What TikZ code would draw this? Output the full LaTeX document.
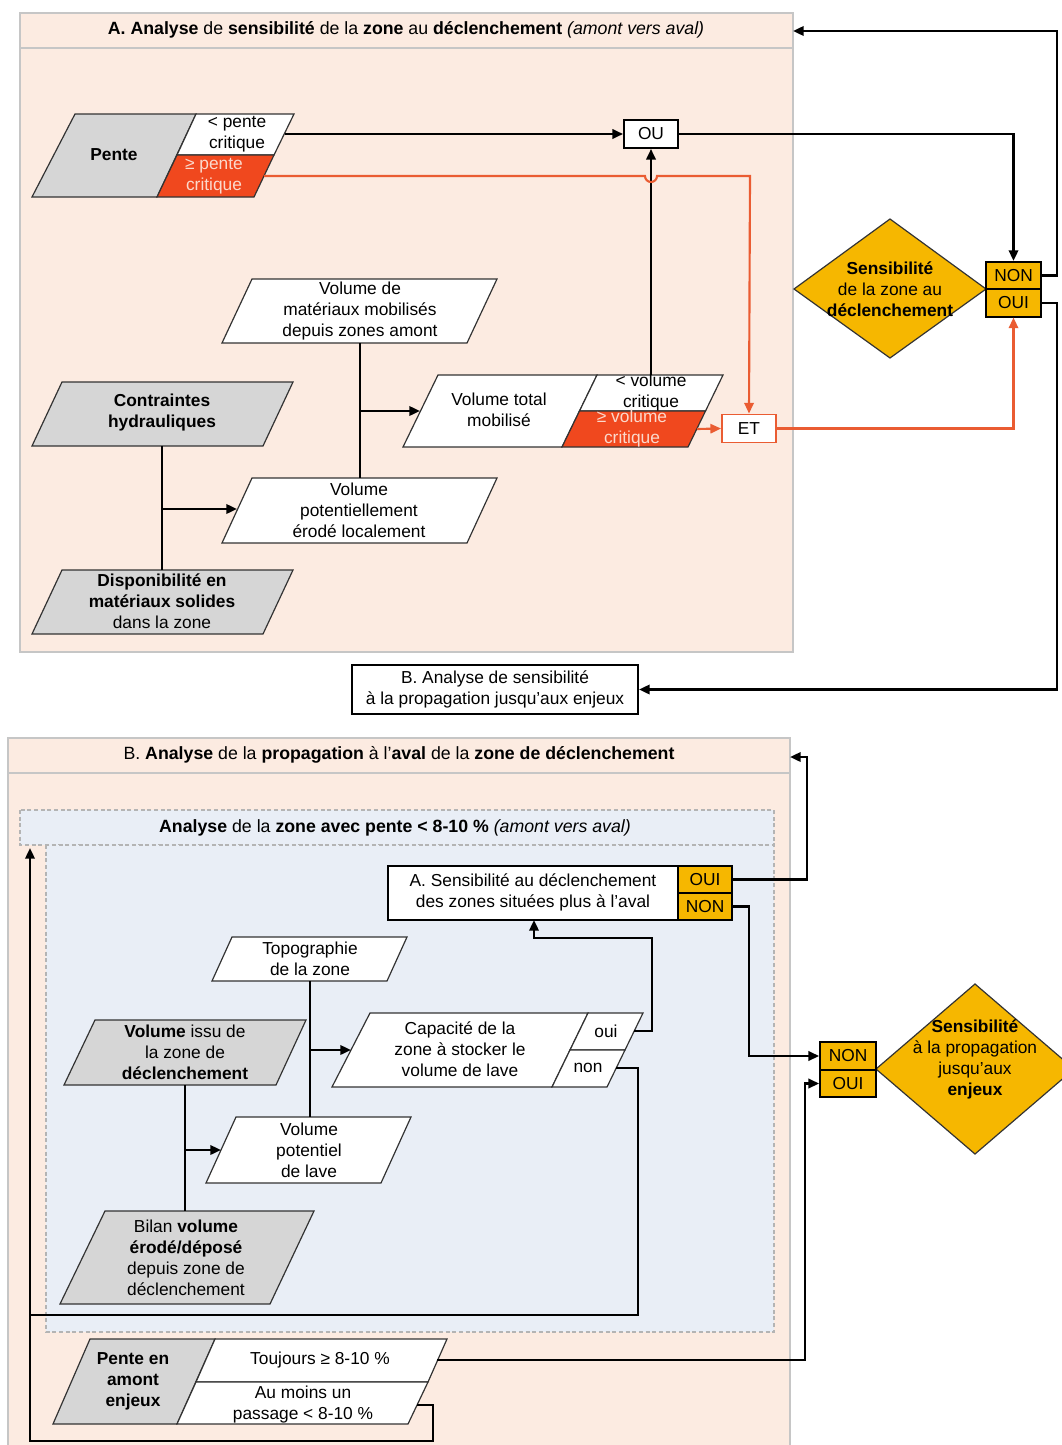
\documentclass[tikz,border=0pt]{standalone}
\usepackage{fontspec}
\setmainfont{Liberation Sans}
\usetikzlibrary{arrows.meta,calc}
\definecolor{peach}{HTML}{FCEBE1}
\definecolor{bordergray}{HTML}{C6C6C6}
\definecolor{boxgray}{HTML}{D6D6D6}
\definecolor{redc}{HTML}{F0481E}
\definecolor{redl}{HTML}{EA5C32}
\definecolor{redtxt}{HTML}{FBD9CC}
\definecolor{amber}{HTML}{F6B700}
\definecolor{bluebg}{HTML}{E9EEF6}
\definecolor{dashgray}{HTML}{B4B4B4}
\newcommand\plg[5][white]{\filldraw[shp, fill=#1] (#2) -- (#3) -- (#4) -- (#5) -- cycle;}
\begin{document}
\begin{tikzpicture}[x=0.75pt,y=-0.75pt,
  txt/.style={font=\fontsize{13}{15.75}\selectfont, align=center, inner sep=0pt},
  ttl/.style={font=\fontsize{13.3}{15}\selectfont, inner sep=0pt},
  shp/.style={draw=black!80, line width=0.9pt},
  conn/.style={line width=1.8pt, draw=black},
  arr/.style={conn, -{Triangle[length=8pt,width=7pt]}},
  rarr/.style={line width=1.6pt, draw=redl, -{Triangle[length=8pt,width=7pt]}},
  gate/.style={draw, line width=1.4pt, fill=white, minimum width=40.5pt, minimum height=21pt, inner sep=0pt, font=\fontsize{13}{15}\selectfont},
  yn/.style={draw, line width=1.3pt, fill=amber, minimum width=41.25pt, minimum height=20.5pt, inner sep=0pt, font=\fontsize{13}{15}\selectfont},
]
\useasboundingbox (0,0) rectangle (1062,1445);
\fill[white] (0,0) rectangle (1062,1445);

% ================= Section A =================
\filldraw[fill=peach, draw=bordergray, line width=1.5pt] (20,13) rectangle (793,652);
\draw[bordergray, line width=1.5pt] (20,48) -- (793,48);
\node[ttl] (titleA) at (406,30) {\textbf{A. Analyse} de \textbf{sensibilité} de la \textbf{zone} au \textbf{déclenchement} \textit{(amont vers aval)}};
\coordinate (secAhdr) at (793,31);

% Pente
\plg[boxgray]{75,114}{196,114}{157,197}{32,197}
\plg{196,114}{294,114}{274,155}{177,155}
\plg[redc]{177,155}{274,155}{254,197}{157,197}
\node[txt, font=\fontsize{13}{15.75}\selectfont\bfseries] (pente) at (114,155) {Pente};
\node[txt] (pentelt) at (237,134) {< pente\\critique};
\node[txt, text=redtxt] (pentege) at (214,176) {≥ pente\\critique};
\coordinate (pltR) at (285,134);
\coordinate (pgeR) at (264,176);

% OU gate
\node[gate] (ou) at (651,134) {OU};

% Volume de materiaux
\plg{252,279}{497,279}{467,343}{222,343}
\node[txt] (vmat) at (360,311) {Volume de\\matériaux mobilisés\\depuis zones amont};
\coordinate (vmatB) at (360,343);

% Contraintes hydrauliques
\plg[boxgray]{62,382}{293,382}{263,446}{32,446}
\node[txt, font=\fontsize{13}{15.75}\selectfont\bfseries] (contr) at (162,413) {Contraintes\\hydrauliques};
\coordinate (contrB) at (162,446);

% Volume total mobilise
\plg{438,375}{597,375}{562,447}{403,447}
\plg{597,375}{723,375}{705.5,411}{579.5,411}
\plg[redc]{579.5,411}{705.5,411}{688,447}{562,447}
\node[txt] (vtot) at (499,410) {Volume total\\mobilisé};
\node[txt] (vlt) at (651,393) {< volume\\critique};
\node[txt, text=redtxt] (vge) at (632,429) {≥ volume\\critique};
\coordinate (vtotL) at (420,411);
\coordinate (vltT) at (651,375);
\coordinate (vgeR) at (697,429);
\coordinate (jA1) at (360,411);

% ET gate
\node[gate, draw=redl] (et) at (749,428.5) {ET};

% Volume potentiellement erode
\plg{252,478}{497,478}{467,543}{222,543}
\node[txt] (vpe) at (359,510) {Volume\\potentiellement\\érodé localement};
\coordinate (vpeT) at (360,478);
\coordinate (vpeL) at (237,509);
\coordinate (jA2) at (162,509);

% Disponibilite
\plg[boxgray]{62,570}{293,570}{263,634}{32,634}
\node[txt] (dispo) at (162,601) {\textbf{Disponibilité en}\\\textbf{matériaux solides}\\dans la zone};
\coordinate (dispoT) at (162,570);

% Decision A
\filldraw[fill=amber, draw=black!80, line width=0.9pt] (890,219) -- (986,289) -- (890,358) -- (794,289) -- cycle;
\node[txt] (sensA) at (890,289) {\textbf{Sensibilité}\\de la zone au\\\textbf{déclenchement}};
\node[yn] (nonA) at (1013.5,275.5) {NON};
\node[yn] (ouiA) at (1013.5,303) {OUI};

% Connectors A
\draw[arr] (pltR) -- (ou.west);
\draw[arr] (vltT) -- (ou.south);
\draw[rarr] (pgeR) -- (645,176) arc[start angle=180, end angle=0, radius=6] -- (750,176) -- (et.north);
\draw[conn] (vmatB) -- (vpeT);
\draw[arr] (jA1) -- (vtotL);
\draw[conn] (contrB) -- (dispoT);
\draw[arr] (jA2) -- (vpeL);
\draw[rarr] (vgeR) -- (et.west);
\draw[rarr] (et.east) -| (ouiA.south);
\draw[arr] (ou.east) -| (nonA.north);
\draw[arr] (nonA.east) -- ++(15,0) |- (secAhdr);

% B box
\node[txt, draw, fill=white, line width=1.5pt, minimum width=214.5pt, minimum height=36.75pt] (boxB) at (495,689.5) {B. Analyse de sensibilité\\à la propagation jusqu'aux enjeux};
\draw[arr] (ouiA.east) -- ++(15,0) |- (boxB.east);

% ================= Section B =================
\filldraw[fill=peach, draw=bordergray, line width=1.5pt] (8,738) rectangle (790,1452);
\draw[bordergray, line width=1.5pt] (8,773) -- (790,773);
\node[ttl] (titleB) at (399,755) {B. \textbf{Analyse} de la \textbf{propagation} à l'\textbf{aval} de la \textbf{zone de déclenchement}};
\coordinate (secBhdr) at (790,757);

\filldraw[fill=bluebg, draw=dashgray, line width=1pt, dash pattern=on 3pt off 2pt] (20,810) rectangle (774,845);
\filldraw[fill=bluebg, draw=dashgray, line width=1pt, dash pattern=on 3pt off 2pt] (46,845) rectangle (774,1332);
\node[ttl] (titleC) at (395,828) {\textbf{Analyse} de la \textbf{zone avec pente < 8-10 \%} \textit{(amont vers aval)}};
\coordinate (dashBL) at (30,848);

% A. Sensibilite box
\node[draw, fill=white, line width=1.6pt, minimum width=258pt, minimum height=40.5pt, inner sep=0pt] (abox) at (560,893) {};
\node[txt] (aboxtxt) at (533,892) {A. Sensibilité au déclenchement\\des zones situées plus à l'aval};
\node[yn, minimum width=40.5pt] (ouiB) at (705,879.5) {OUI};
\node[yn, minimum width=40.5pt] (nonB) at (705,906.5) {NON};
\coordinate (aboxB) at (534,920);

% Topographie
\plg{232,937}{407,937}{387,981}{212,981}
\node[txt] (topo) at (310,959) {Topographie\\de la zone};
\coordinate (topoB) at (310,981);

% Volume issu
\plg[boxgray]{95,1020}{306,1020}{276,1085}{64,1085}
\node[txt] (vissu) at (185,1052) {\textbf{Volume} issu de\\la zone de\\\textbf{déclenchement}};
\coordinate (vissuB) at (185,1085);

% Capacite
\plg{370,1013}{588,1013}{552,1087}{332,1087}
\plg{588,1013}{643,1013}{625,1050}{570,1050}
\plg{570,1050}{625,1050}{607,1087}{552,1087}
\node[txt] (capa) at (460,1049) {Capacité de la\\zone à stocker le\\volume de lave};
\node[txt] (oui) at (606,1031) {oui};
\node[txt] (non) at (588,1068) {non};
\coordinate (capaL) at (351,1050);
\coordinate (ouiR) at (634,1031);
\coordinate (nonR) at (616,1068);
\coordinate (jB1) at (310,1050);

% Volume potentiel
\plg{236,1117}{411,1117}{381,1183}{206,1183}
\node[txt] (vpot) at (309,1150) {Volume\\potentiel\\de lave};
\coordinate (vpotT) at (310,1117);
\coordinate (vpotL) at (221,1150);
\coordinate (jB2) at (185,1150);

% Bilan
\plg[boxgray]{105,1211}{314,1211}{270,1304}{60,1304}
\node[txt] (bilan) at (186,1258) {Bilan \textbf{volume}\\\textbf{érodé/déposé}\\depuis zone de\\déclenchement};
\coordinate (bilanT) at (185,1211);

% Pente en amont enjeux
\plg[boxgray]{90,1339}{215,1339}{177,1424}{53,1424}
\plg{215,1339}{447,1339}{428,1382}{196,1382}
\plg{196,1382}{428,1382}{408,1424}{177,1424}
\node[txt, font=\fontsize{13}{15.75}\selectfont\bfseries] (pam) at (133,1381) {Pente en\\amont\\enjeux};
\node[txt] (touj) at (320,1360) {Toujours ≥ 8-10 \%};
\node[txt] (aumoins) at (303,1404) {Au moins un\\passage < 8-10 \%};
\coordinate (toujR) at (437,1360);
\coordinate (passR) at (417,1405);
\coordinate (busL) at (30,1315);

% Decision B
\filldraw[fill=amber, draw=black!80, line width=0.9pt] (975,984) -- (1074,1069) -- (975,1154) -- (876,1069) -- cycle;
\node[txt] (sensB) at (975,1059) {\textbf{Sensibilité}\\à la propagation\\jusqu'aux\\\textbf{enjeux}};
\node[yn, minimum width=42pt, minimum height=21pt] (nonC) at (848,1056) {NON};
\node[yn, minimum width=42pt, minimum height=20.25pt] (ouiC) at (848,1083.5) {OUI};

% Connectors B
\draw[arr] (ouiB.east) -- ++(74,0) |- (secBhdr);
\draw[arr] (nonB.east) -- ++(16,0) |- (nonC.west);
\draw[conn] (topoB) -- (vpotT);
\draw[arr] (jB1) -- (capaL);
\draw[conn] (vissuB) -- (bilanT);
\draw[arr] (jB2) -- (vpotL);
\draw[arr] (ouiR) -- ++(18,0) |- ($(aboxB)+(0,18)$) -- (aboxB);
\draw[arr] (nonR) -- ++(22,0) |- (busL) -- (dashBL);
\draw[conn] (passR) -- ++(16,0) |- (30,1441) -- (busL);
\draw[arr] (toujR) -| ($(ouiC.west)+(-14,0)$) -- (ouiC.west);
\end{tikzpicture}
\end{document}
